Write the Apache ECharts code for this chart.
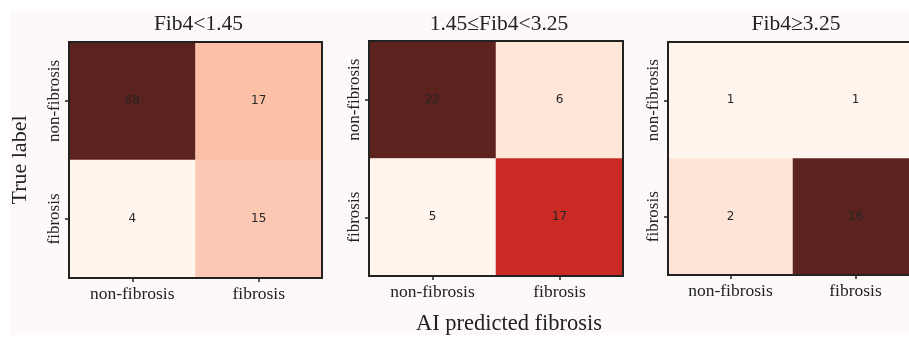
<!DOCTYPE html>
<html>
<head>
<meta charset="utf-8">
<script src="https://cdn.jsdelivr.net/npm/echarts@6/dist/echarts.min.js"></script>
<style>
  html, body { margin: 0; padding: 0; background: #fff; }
  #container { width: 909px; height: 337px; }
</style>
</head>
<body>
<div id="container"></div>
<script>
// confusion matrices, rows = true label, cols = predicted
var predLabels = ['non-fibrosis', 'fibrosis'];
var trueLabels = ['non-fibrosis', 'fibrosis'];
var panelTitles = ['Fib4<1.45', '1.45≤Fib4<3.25', 'Fib4≥3.25'];
var cmLow = [[68, 17], [4, 15]];
var cmMid = [[22, 6], [5, 17]];
var cmHigh = [[1, 1], [2, 16]];

var matrices = [cmLow, cmMid, cmHigh];
// grid boxes (left, top, width, height) - last one runs off the right edge
var boxes = [
  [69, 42, 253, 236],
  [369, 41, 254, 235],
  [668, 42, 250, 233]
];
var reds = ['#fff5ec', '#fdd5c4', '#fcb396', '#f77a5c', '#ec5040', '#d9352a', '#c02620', '#8e221c', '#5c231e'];
var serif = 'Liberation Serif';

var grid = [], xAxis = [], yAxis = [], series = [], visualMap = [], title = [];
for (var p = 0; p < 3; p++) {
  var b = boxes[p];
  grid.push({
    left: b[0], top: b[1], width: b[2], height: b[3], z: 5,
    outerBoundsMode: 'none', containLabel: false,
    show: true, borderColor: '#222', borderWidth: 2, backgroundColor: 'transparent'
  });
  xAxis.push({
    type: 'category', gridIndex: p, data: predLabels,
    axisLine: { show: false },
    axisTick: { show: true, alignWithLabel: true, length: 4, lineStyle: { color: '#222', width: 1.5 } },
    axisLabel: { fontFamily: serif, fontSize: 17.5, color: '#222', margin: 7 },
    splitArea: { show: false },
    name: p == 1 ? 'AI predicted fibrosis' : '',
    nameLocation: 'middle', nameGap: 37,
    nameTextStyle: { fontFamily: serif, fontSize: 22.5, color: '#222', padding: [0, 0, 0, 26] }
  });
  yAxis.push({
    type: 'category', gridIndex: p, data: trueLabels, inverse: true,
    axisLine: { show: false },
    axisTick: { show: true, alignWithLabel: true, length: 4, lineStyle: { color: '#222', width: 1.5 } },
    axisLabel: { fontFamily: serif, fontSize: 17, color: '#222', rotate: 90, margin: 6 },
    name: p == 0 ? 'True label' : '',
    nameLocation: 'middle', nameGap: 38, nameRotate: 90,
    nameTextStyle: { fontFamily: serif, fontSize: 22, color: '#222' }
  });
  var m = matrices[p];
  var data = [], mn = Infinity, mx = -Infinity;
  for (var r = 0; r < 2; r++) {
    for (var c = 0; c < 2; c++) {
      data.push([c, r, m[r][c]]);
      mn = Math.min(mn, m[r][c]);
      mx = Math.max(mx, m[r][c]);
    }
  }
  series.push({
    type: 'heatmap', xAxisIndex: p, yAxisIndex: p, data: data,
    label: { show: true, fontFamily: 'DejaVu Sans', fontSize: 12, color: '#262626' },
    emphasis: { disabled: true }
  });
  visualMap.push({
    show: false, seriesIndex: p, min: mn, max: mx, dimension: 2,
    inRange: { color: reds }
  });
  title.push({
    text: panelTitles[p],
    left: b[0] + b[2] / 2 - 2, top: 8, textAlign: 'center',
    textStyle: { fontFamily: serif, fontSize: 21.5, fontWeight: 'normal', color: '#222' }
  });
}

var option = {
  backgroundColor: '#ffffff',
  animation: false,
  title: title,
  graphic: [{
    type: 'rect', z: -10, silent: true,
    shape: { x: 10, y: 11, width: 899, height: 324 },
    style: { fill: '#fdf9f8' }
  }],
  grid: grid,
  xAxis: xAxis,
  yAxis: yAxis,
  visualMap: visualMap,
  series: series
};

var chart = echarts.init(document.getElementById('container'));
chart.setOption(option);
</script>
</body>
</html>
